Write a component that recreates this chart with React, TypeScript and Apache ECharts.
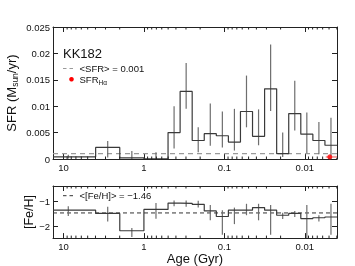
import React, { useEffect, useRef } from "react";
import * as echarts from "echarts";

const FONT = "'Liberation Sans', Arial, Helvetica, sans-serif";

// Age axis range, log10(age / yr)
const axisMinLogYr = 6.6;
const axisMaxLogYr = 10.13;

// Bin edges of the SFH, log10(age / yr), old -> young
const binEdgesLogYr = [10.13, 9.6, 9.3, 9.0, 8.7, 8.55, 8.4, 8.25, 8.1, 7.95, 7.8, 7.65, 7.5, 7.35, 7.2, 7.05, 6.9, 6.75, 6.6];
// Position of the error bars, log10(age / yr)
const errPosLogYr = [9.94, 9.45, 9.15, 8.85, 8.625, 8.475, 8.325, 8.175, 8.025, 7.875, 7.725, 7.575, 7.425, 7.275, 7.125, 6.975, 6.825, 6.675];

// Star formation rate (Msun/yr)
const sfrValues = [0.0004, 0.0022, 0.0002, 0.00005, 0.005, 0.0128, 0.0035, 0.0048, 0.0044, 0.0032, 0.009, 0.0043, 0.0133, 0.001, 0.0086, 0.0047, 0.0035, 0.0026];
const sfrErrLow = [0.0001, 0.0003, 0, 0, 0.002, 0.0095, 0.0013, 0.0025, 0.0022, 0.0016, 0.006, 0.0026, 0.0091, 0.0004, 0.0054, 0.0011, 0.0009, 0];
const sfrErrHigh = [0.0008, 0.0034, 0.0015, 0.0013, 0.01, 0.0182, 0.006, 0.0105, 0.009, 0.0095, 0.0158, 0.0094, 0.0217, 0.005, 0.0148, 0.0088, 0.007, 0.0078];

// Metallicity [Fe/H]
const fehValues = [-1.35, -1.48, -2.16, -1.32, -1.07, -1.08, -1.12, -1.38, -1.6, -1.35, -1.35, -1.25, -1.35, -1.55, -1.48, -1.68, -1.65, -1.62];
const fehErrLow = [-1.58, -1.8, -2.41, -1.69, -1.2, -1.22, -1.25, -1.75, -2.32, -1.9, -1.55, -1.75, -2.32, -1.7, -1.62, -2.45, -1.8, -2.32];
const fehErrHigh = [-1.2, -1.22, -2.05, -1.07, -0.97, -0.97, -0.98, -1.15, -1.35, -1.25, -1.1, -1.1, -1.15, -1.45, -1.38, -1.15, -1.55, -1.1];

const meanSfr = 0.001;
const meanFeh = -1.46;
const sfrHa = 0.0004;
const sfrHaLogYr = 6.69;
const sfrHaRangeLogYr = [6.74, 6.6];

const xTickLabels = [10, 1, 0.1, 0.01];
const minorMultipliers = [2, 3, 4, 5, 6, 7, 8, 9];
const minorDecades = [-3, -2, -1, 0, 1];
const fehTicks = [-2, -1];

const toGyr = (l: number) => Math.pow(10, l - 9);
const xMin = toGyr(axisMinLogYr);
const xMax = toGyr(axisMaxLogYr);

const minorTickValues: number[] = [];
minorDecades.forEach((d) =>
  minorMultipliers.forEach((m) => {
    const v = m * Math.pow(10, d);
    if (v > xMin && v < xMax) minorTickValues.push(v);
  })
);

const stepPoints = (vals: number[]) => {
  const pts: number[][] = [];
  vals.forEach((v, i) => {
    pts.push([toGyr(binEdgesLogYr[i]), v]);
    pts.push([toGyr(binEdgesLogYr[i + 1]), v]);
  });
  return pts;
};

const AXIS_COLOR = "#222";

const xAxisDef = (gridIndex: number, position: string, showLabel: boolean, extra: any = {}) => ({
  type: "log",
  logBase: 10,
  gridIndex,
  position,
  inverse: true,
  min: xMin,
  max: xMax,
  axisLine: { show: true, onZero: false, lineStyle: { color: AXIS_COLOR, width: 1 } },
  axisTick: { show: true, inside: true, length: 5, lineStyle: { color: AXIS_COLOR, width: 1 } },
  axisLabel: {
    show: showLabel,
    showMinLabel: false,
    showMaxLabel: false,
    color: "#111",
    fontSize: 9.5,
    fontFamily: FONT,
    margin: 3,
    formatter: (v: number) => {
      const m = xTickLabels.find((t) => Math.abs(Math.log10(t) - Math.log10(v)) < 1e-6);
      return m !== undefined ? String(m) : "";
    },
  },
  splitLine: { show: false },
  ...extra,
});

const yAxisDef = (gridIndex: number, position: string, showLabel: boolean, extra: any) => ({
  type: "value",
  gridIndex,
  position,
  axisLine: { show: true, onZero: false, lineStyle: { color: AXIS_COLOR, width: 1 } },
  axisTick: { show: true, inside: true, length: 5, lineStyle: { color: AXIS_COLOR, width: 1 } },
  axisLabel: { show: showLabel, color: "#111", fontSize: 9.5, fontFamily: FONT, margin: 3 },
  splitLine: { show: false },
  ...extra,
});

const minorTickSeries = (xi: number, yi: number, yRef: number) => ({
  type: "custom",
  xAxisIndex: xi,
  yAxisIndex: yi,
  silent: true,
  z: 5,
  data: minorTickValues.map((v) => [v, yRef]),
  encode: { x: 0, y: 1 },
  renderItem: (params: any, api: any) => {
    const c = api.coord([api.value(0), api.value(1)]);
    const cs = params.coordSys;
    const L = 2.5;
    const st = { stroke: AXIS_COLOR, lineWidth: 1 };
    return {
      type: "group",
      children: [
        { type: "line", shape: { x1: c[0], y1: cs.y + cs.height, x2: c[0], y2: cs.y + cs.height - L }, style: st },
        { type: "line", shape: { x1: c[0], y1: cs.y, x2: c[0], y2: cs.y + L }, style: st },
      ],
    };
  },
});

const errSeries = (xi: number, yi: number, lo: number[], hi: number[]) => ({
  type: "custom",
  xAxisIndex: xi,
  yAxisIndex: yi,
  silent: true,
  z: 3,
  data: errPosLogYr.map((l, i) => [toGyr(l), lo[i], hi[i]]),
  encode: { x: 0, y: [1, 2] },
  renderItem: (params: any, api: any) => {
    const x = api.value(0);
    const p1 = api.coord([x, api.value(1)]);
    const p2 = api.coord([x, api.value(2)]);
    return {
      type: "line",
      shape: { x1: p1[0], y1: p1[1], x2: p2[0], y2: p2[1] },
      style: { stroke: "#6e6e6e", lineWidth: 1.2 },
    };
  },
});

export default function App() {
  const ref = useRef<HTMLDivElement>(null);

  useEffect(() => {
    if (!ref.current) return;
    const chart = echarts.init(ref.current, null, { renderer: "svg" });

    const option: any = {
      animation: false,
      textStyle: { fontFamily: FONT },
      grid: [
        { left: 53, top: 27, width: 284, height: 132 },
        { left: 53, top: 186, width: 284, height: 52.5 },
      ],
      xAxis: [
        xAxisDef(0, "bottom", true),
        xAxisDef(0, "top", false),
        xAxisDef(1, "bottom", true, {
          name: "Age (Gyr)",
          nameLocation: "middle",
          nameGap: 13,
          nameTextStyle: { fontSize: 13, color: "#111", fontFamily: FONT, verticalAlign: "top" },
        }),
        xAxisDef(1, "top", false),
      ],
      yAxis: [
        yAxisDef(0, "left", true, { min: 0, max: 0.025, interval: 0.005 }),
        yAxisDef(0, "right", false, { min: 0, max: 0.025, interval: 0.005 }),
        yAxisDef(1, "left", true, {
          min: -2.45,
          max: -0.4,
          splitNumber: 2,
          axisLabel: {
            show: true,
            color: "#111",
            fontSize: 9.5,
            fontFamily: FONT,
            margin: 3,
            showMinLabel: false,
            showMaxLabel: false,
            formatter: (v: number) => {
              const t = fehTicks.find((f) => Math.abs(f - v) < 1e-6);
              return t !== undefined ? "\u2212" + Math.abs(t) : "";
            },
          },
        }),
        yAxisDef(1, "right", false, { min: -2.45, max: -0.4, splitNumber: 2 }),
      ],
      series: [
        {
          type: "line",
          xAxisIndex: 0,
          yAxisIndex: 0,
          symbol: "none",
          silent: true,
          z: 2,
          data: [[xMax, meanSfr], [xMin, meanSfr]],
          lineStyle: { color: "#9a9a9a", width: 1.2, type: [5, 4] },
        },
        {
          type: "line",
          xAxisIndex: 0,
          yAxisIndex: 0,
          symbol: "none",
          silent: true,
          z: 4,
          data: stepPoints(sfrValues),
          lineStyle: { color: "#3a3a3a", width: 1.2 },
        },
        errSeries(0, 0, sfrErrLow, sfrErrHigh),
        {
          type: "line",
          xAxisIndex: 0,
          yAxisIndex: 0,
          symbol: "none",
          silent: true,
          z: 6,
          data: sfrHaRangeLogYr.map((l) => [toGyr(l), sfrHa]),
          lineStyle: { color: "#f5a3a3", width: 2 },
        },
        {
          type: "scatter",
          xAxisIndex: 0,
          yAxisIndex: 0,
          silent: true,
          z: 7,
          symbolSize: 5,
          data: [[toGyr(sfrHaLogYr), sfrHa]],
          itemStyle: { color: "#ff0000" },
        },
        minorTickSeries(0, 0, 0),
        {
          type: "line",
          xAxisIndex: 2,
          yAxisIndex: 2,
          symbol: "none",
          silent: true,
          z: 2,
          data: [[xMax, meanFeh], [xMin, meanFeh]],
          lineStyle: { color: "#333", width: 1, type: [4, 3] },
        },
        {
          type: "line",
          xAxisIndex: 2,
          yAxisIndex: 2,
          symbol: "none",
          silent: true,
          z: 4,
          data: stepPoints(fehValues),
          lineStyle: { color: "#3a3a3a", width: 1.2 },
        },
        errSeries(2, 2, fehErrLow, fehErrHigh),
        minorTickSeries(2, 2, -2),
      ],
      graphic: [
        {
          type: "text",
          x: 63,
          y: 53,
          style: { text: "KK182", fontSize: 13, fontFamily: FONT, fill: "#111", align: "left", verticalAlign: "middle" },
        },
        {
          type: "line",
          shape: { x1: 63, y1: 68.5, x2: 76, y2: 68.5 },
          style: { stroke: "#9a9a9a", lineWidth: 1.2, lineDash: [3.5, 3] },
        },
        {
          type: "text",
          x: 79.5,
          y: 68.5,
          style: { text: "<SFR> = 0.001", fontSize: 9.5, fontFamily: FONT, fill: "#111", align: "left", verticalAlign: "middle" },
        },
        {
          type: "circle",
          shape: { cx: 71.5, cy: 79.3, r: 2.3 },
          style: { fill: "#ff0000" },
        },
        {
          type: "text",
          x: 79.5,
          y: 80,
          style: {
            text: "{a|SFR}{s|H\u03b1}",
            align: "left",
            verticalAlign: "middle",
            rich: {
              a: { fontSize: 9.5, fontFamily: FONT, fill: "#111", color: "#111", lineHeight: 11, verticalAlign: "top" },
              s: { fontSize: 6.5, fontFamily: FONT, fill: "#111", color: "#111", lineHeight: 11, verticalAlign: "bottom", padding: [5, 0, 0, 0] },
            },
          },
        },
        {
          type: "line",
          shape: { x1: 63, y1: 195.7, x2: 76, y2: 195.7 },
          style: { stroke: "#333", lineWidth: 1, lineDash: [3.5, 3] },
        },
        {
          type: "text",
          x: 79.5,
          y: 195.7,
          style: { text: "<[Fe/H]> = \u22121.46", fontSize: 9.5, fontFamily: FONT, fill: "#111", align: "left", verticalAlign: "middle" },
        },
        {
          type: "text",
          x: 12,
          y: 93,
          rotation: Math.PI / 2,
          style: {
            text: "{a|SFR (M}{s|sun}{a|/yr)}",
            align: "center",
            verticalAlign: "middle",
            rich: {
              a: { fontSize: 13, fontFamily: FONT, fill: "#111", color: "#111", lineHeight: 15, verticalAlign: "top" },
              s: { fontSize: 8.5, fontFamily: FONT, fill: "#111", color: "#111", lineHeight: 15, verticalAlign: "bottom", padding: [6, 0, 0, 0] },
            },
          },
        },
        {
          type: "text",
          x: 29,
          y: 212,
          rotation: Math.PI / 2,
          style: { text: "[Fe/H]", fontSize: 12.5, fontFamily: FONT, fill: "#111", align: "center", verticalAlign: "middle" },
        },
      ],
    };

    chart.setOption(option);
    return () => chart.dispose();
  }, []);

  return <div ref={ref} style={{ position: "fixed", left: 0, top: 0, width: 355, height: 266 }} />;
}
